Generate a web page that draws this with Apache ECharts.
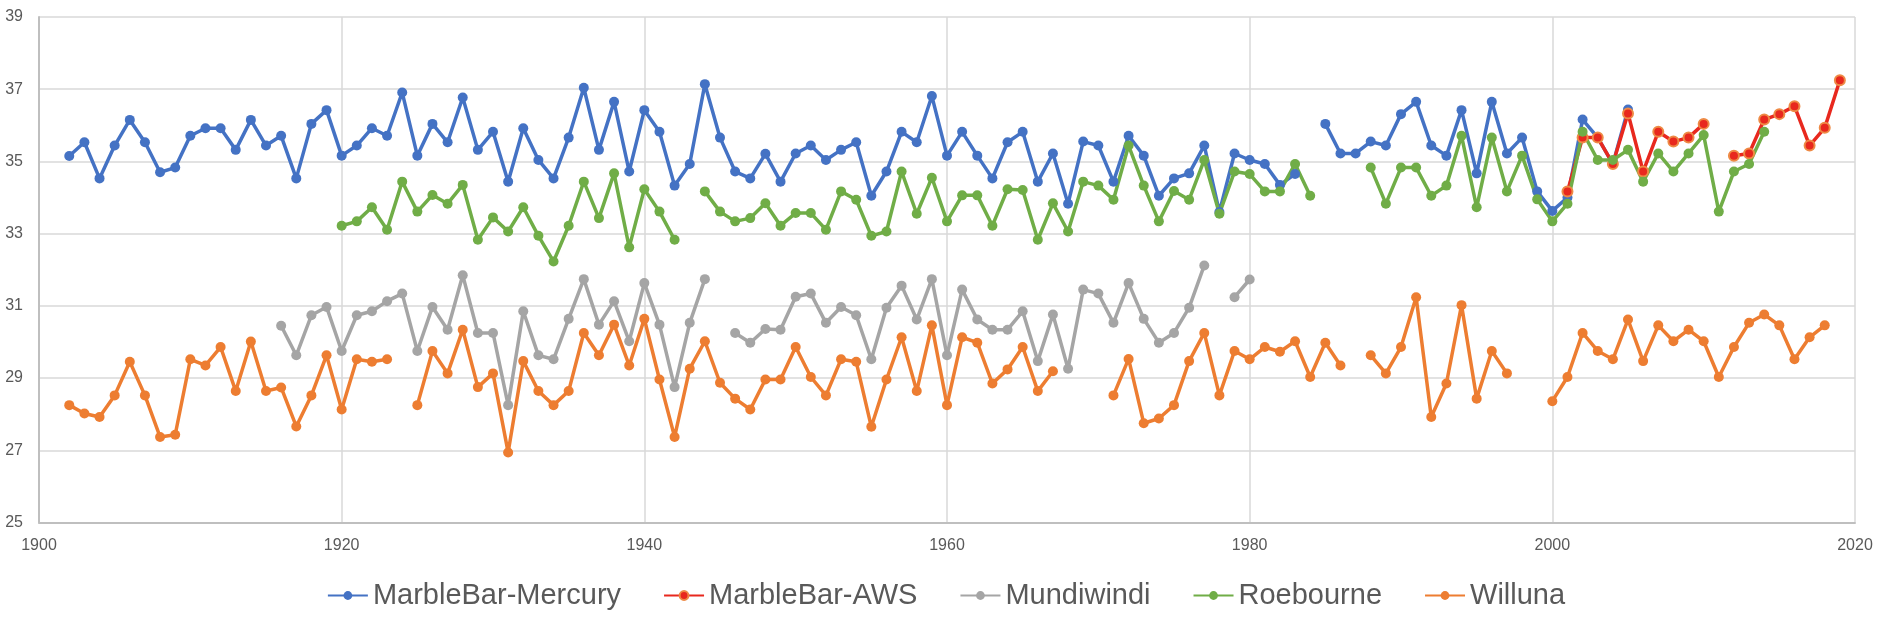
<!DOCTYPE html>
<html>
<head>
<meta charset="utf-8">
<script src="https://cdn.jsdelivr.net/npm/echarts@6/dist/echarts.min.js"></script>
<style>
html,body{margin:0;padding:0;background:#fff;}
#chart{width:1892px;height:624px;}
</style>
</head>
<body>
<div id="chart"></div>
<script>
// Series names (legend order)
const seriesNames = ['MarbleBar-Mercury', 'MarbleBar-AWS', 'Mundiwindi', 'Roebourne', 'Willuna'];

// Axis ticks
const xTicks = [1900, 1920, 1940, 1960, 1980, 2000, 2020];
const yTicks = [25, 27, 29, 31, 33, 35, 37, 39];

// MarbleBar-Mercury, starting 1902 (null = missing year)
const mercuryStart = 1902;
const mercury = [
  35.15, 35.53, 34.53, 35.44, 36.15, 35.53, 34.70, 34.83, 35.71, 35.92, 35.92, 35.32, 36.15, 35.44, 35.71, 34.53,
  36.04, 36.42, 35.16, 35.44, 35.92, 35.71, 36.91, 35.16, 36.04, 35.53, 36.77, 35.32, 35.82, 34.44, 35.92, 35.04, 34.53,
  35.66, 37.04, 35.32, 36.65, 34.72, 36.42, 35.82, 34.33, 34.93, 37.14, 35.66, 34.72, 34.53, 35.21, 34.44, 35.22,
  35.44, 35.04, 35.32, 35.53, 34.05, 34.72, 35.82, 35.53, 36.81, 35.16, 35.82, 35.16, 34.53, 35.53, 35.82, 34.44, 35.22,
  33.83, 35.55, 35.44, 34.44, 35.71, 35.16, 34.05, 34.53, 34.67, 35.44, 33.60, 35.22, 35.04, 34.93, 34.35, 34.65,
  null,
  36.04, 35.22, 35.22, 35.55, 35.44, 36.31, 36.65, 35.44, 35.16, 36.42, 34.67, 36.65, 35.22, 35.66, 34.17, 33.63,
  34.00, 36.16, 35.66, 34.93, 36.44
];

// MarbleBar-AWS, starting 2001
const awsStart = 2001;
const aws = [
  34.17, 35.66, 35.66, 34.93, 36.33, 34.72, 35.82, 35.55, 35.66, 36.04, null,
  35.16, 35.22, 36.16, 36.31, 36.53, 35.44, 35.93, 37.25
];

// Mundiwindi, starting 1916
const mundiStart = 1916;
const mundi = [
  30.45, 29.63, 30.74, 30.97, 29.75, 30.74, 30.85, 31.13, 31.34, 29.75, 30.97, 30.34, 31.85, 30.25, 30.25, 28.25, 30.85, 29.63, 29.52,
  30.64, 31.74, 30.48, 31.13, 30.02, 31.63, 30.48, 28.75, 30.53, 31.74,
  null,
  30.25, 29.98, 30.36, 30.34, 31.25, 31.34, 30.53, 30.97, 30.74, 29.52, 30.95, 31.56, 30.62, 31.74, 29.63, 31.45, 30.62, 30.34, 30.34, 30.85, 29.47, 30.76,
  29.26, 31.45, 31.34, 30.53, 31.63, 30.64, 29.98, 30.25, 30.95, 32.12,
  null,
  31.24, 31.73
];

// Roebourne, starting 1920
const roeStart = 1920;
const roe = [
  33.22, 33.34, 33.73, 33.11, 34.44, 33.61, 34.07, 33.83, 34.35, 32.83, 33.45, 33.06, 33.73, 32.94, 32.23, 33.22, 34.44, 33.43, 34.67, 32.62, 34.23, 33.61, 32.83,
  null,
  34.17, 33.61, 33.34, 33.43, 33.84, 33.22, 33.57, 33.57, 33.11, 34.17, 33.94, 32.94, 33.06, 34.72, 33.55, 34.55, 33.34, 34.06, 34.06, 33.22, 34.23,
  34.21, 32.83, 33.84, 33.06, 34.44, 34.33, 33.94, 35.44, 34.33, 33.34, 34.18, 33.94, 35.04, 33.55, 34.72, 34.65, 34.17, 34.17, 34.93, 34.05,
  null, null, null,
  34.83, 33.83, 34.83, 34.83, 34.05, 34.33, 35.71, 33.73, 35.66, 34.17, 35.16, 33.95, 33.34, 33.83, 35.82, 35.04, 35.04, 35.32, 34.44,
  35.22, 34.72, 35.22, 35.73, 33.61, 34.72, 34.93, 35.82
];

// Willuna, starting 1902
const willStart = 1902;
const will = [
  28.25, 28.02, 27.92, 28.52, 29.45, 28.52, 27.37, 27.43, 29.52, 29.35, 29.86, 28.64, 30.01, 28.64, 28.74, 27.66, 28.52, 29.63, 28.13, 29.52, 29.45, 29.52,
  null,
  28.25, 29.75, 29.13, 30.34, 28.75, 29.13, 26.94, 29.47, 28.64, 28.25, 28.64, 30.25, 29.63, 30.48, 29.35, 30.64, 28.96, 27.37, 29.26, 30.02, 28.87,
  28.43, 28.13, 28.96, 28.96, 29.86, 29.03, 28.52, 29.52, 29.45, 27.65, 28.96, 30.13, 28.64, 30.46, 28.25, 30.13, 29.98, 28.85, 29.24, 29.86, 28.64, 29.19,
  null, null, null,
  28.52, 29.53, 27.75, 27.88, 28.25, 29.47, 30.25, 28.52, 29.75, 29.52, 29.86, 29.73, 30.02, 29.03, 29.98, 29.35,
  null,
  29.63, 29.13, 29.86, 31.24, 27.92, 28.85, 31.02, 28.43, 29.75, 29.13,
  null, null,
  28.36, 29.03, 30.25, 29.75, 29.52, 30.62, 29.47, 30.46, 30.02, 30.34, 30.02, 29.03, 29.86, 30.53, 30.76, 30.46, 29.52, 30.13, 30.46
];

function toPairs(start, arr) {
  return arr.map(function (v, i) { return [start + i, v === null ? '-' : v]; });
}

const colors = ['#4472C4', '#E8281E', '#A5A5A5', '#70AD47', '#ED7D31'];
const FONT = 'Liberation Sans, Arial, sans-serif';

function lineSeries(name, data, color, extra) {
  const s = {
    name: name,
    type: 'line',
    data: data,
    connectNulls: false,
    showAllSymbol: true,
    symbol: 'circle',
    symbolSize: 10,
    lineStyle: { width: 3.5, color: color },
    itemStyle: { color: color },
    emphasis: { disabled: true },
    animation: false
  };
  return Object.assign(s, extra || {});
}

const chart = echarts.init(document.getElementById('chart'), null, { renderer: 'canvas' });

chart.setOption({
  animation: false,
  backgroundColor: '#ffffff',
  color: colors,
  grid: { left: 39, right: 37, top: 17, bottom: 101.5, containLabel: false },
  xAxis: {
    type: 'value',
    min: xTicks[0],
    max: xTicks[xTicks.length - 1],
    interval: 20,
    axisLine: { show: true, lineStyle: { color: '#BFBFBF', width: 2 } },
    axisTick: { show: false },
    axisLabel: { color: '#595959', fontSize: 16, fontFamily: FONT, margin: 15, formatter: function (v) { return String(v); } },
    splitLine: { show: true, lineStyle: { color: '#D9D9D9', width: 1.5 } }
  },
  yAxis: {
    type: 'value',
    min: yTicks[0],
    max: yTicks[yTicks.length - 1],
    interval: 2,
    axisLine: { show: true, lineStyle: { color: '#BFBFBF', width: 2 } },
    axisTick: { show: false },
    axisLabel: { color: '#595959', fontSize: 16, fontFamily: FONT, margin: 16 },
    splitLine: { show: true, lineStyle: { color: '#D9D9D9', width: 1.5 } }
  },
  legend: {
    data: seriesNames,
    left: 'center',
    top: 576,
    itemGap: 42,
    itemWidth: 40,
    itemHeight: 11,
    textStyle: { color: '#595959', fontSize: 29, fontFamily: FONT }
  },
  series: [
    lineSeries(seriesNames[0], toPairs(mercuryStart, mercury), colors[0]),
    lineSeries(seriesNames[1], toPairs(awsStart, aws), colors[1], {
      itemStyle: { color: colors[1], borderColor: '#EE8A45', borderWidth: 2 }
    }),
    lineSeries(seriesNames[2], toPairs(mundiStart, mundi), colors[2]),
    lineSeries(seriesNames[3], toPairs(roeStart, roe), colors[3]),
    lineSeries(seriesNames[4], toPairs(willStart, will), colors[4])
  ]
});
</script>
</body>
</html>
